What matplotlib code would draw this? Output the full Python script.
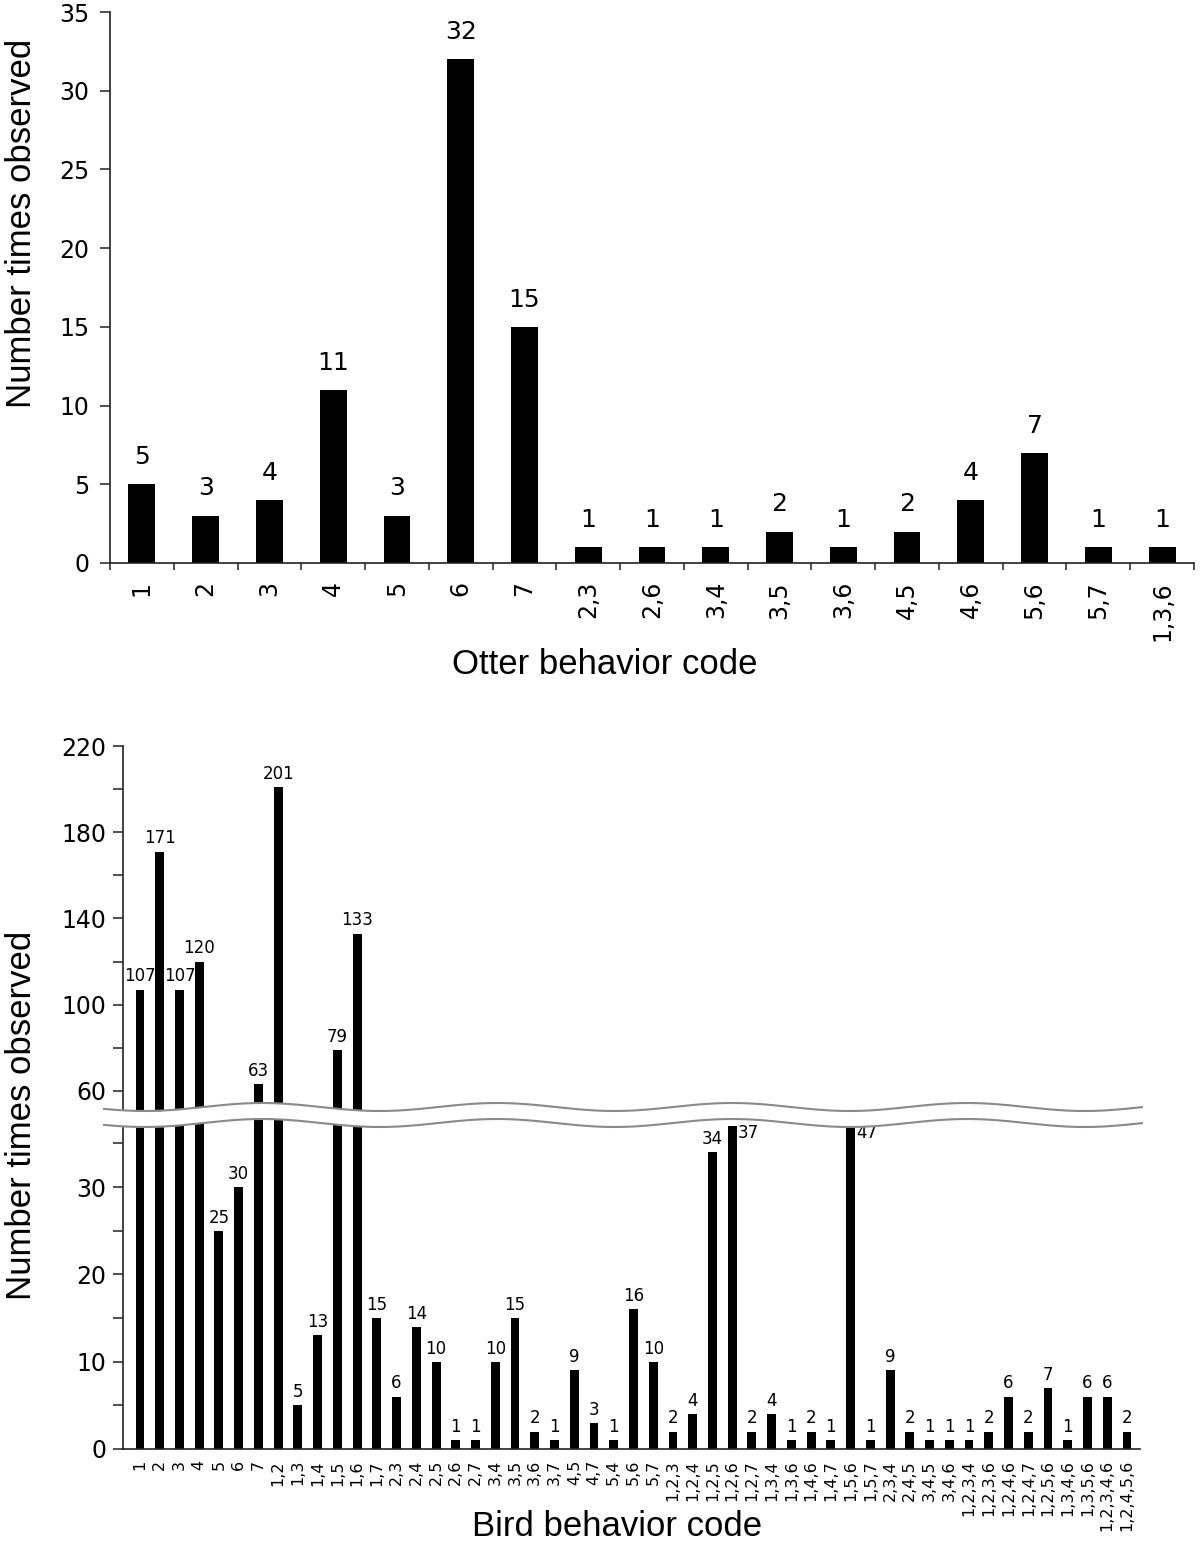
import numpy as np
import matplotlib
matplotlib.use("Agg")
import matplotlib.pyplot as plt

# Datos: nutria (panel superior)
otter_codes = ['1', '2', '3', '4', '5', '6', '7', '2,3', '2,6', '3,4', '3,5',
               '3,6', '4,5', '4,6', '5,6', '5,7', '1,3,6']
otter_counts = [5, 3, 4, 11, 3, 32, 15, 1, 1, 1, 2, 1, 2, 4, 7, 1, 1]

# Datos: aves (panel inferior)
bird_codes = ['1', '2', '3', '4', '5', '6', '7',
              '1,2', '1,3', '1,4', '1,5', '1,6', '1,7',
              '2,3', '2,4', '2,5', '2,6', '2,7',
              '3,4', '3,5', '3,6', '3,7',
              '4,5', '4,7',
              '5,4', '5,6', '5,7',
              '1,2,3', '1,2,4', '1,2,5', '1,2,6', '1,2,7',
              '1,3,4', '1,3,6', '1,4,6', '1,4,7', '1,5,6', '1,5,7',
              '2,3,4', '2,4,5', '3,4,5', '3,4,6',
              '1,2,3,4', '1,2,3,6', '1,2,4,6', '1,2,4,7', '1,2,5,6',
              '1,3,4,6', '1,3,5,6', '1,2,3,4,6', '1,2,4,5,6']
bird_counts = [107, 171, 107, 120, 25, 30, 63,
               201, 5, 13, 79, 133, 15,
               6, 14, 10, 1, 1,
               10, 15, 2, 1,
               9, 3,
               1, 16, 10,
               2, 4, 34, 37, 2,
               4, 1, 2, 1, 47, 1,
               9, 2, 1, 1,
               1, 2, 6, 2, 7,
               1, 6, 6, 2]

W, H = 1200, 1546
fig = plt.figure(figsize=(W / 100, H / 100), dpi=100)

def rect(x0, x1, y_top, y_bot):
    # rectangulo en pixeles -> fraccion de figura
    return [x0 / W, 1 - y_bot / H, (x1 - x0) / W, (y_bot - y_top) / H]

tick_font = 'DejaVu Sans'
label_font = 'Liberation Sans'
spine_c = '#222222'

# ---------------- Panel superior ----------------
ax1 = fig.add_axes(rect(110, 1194, 12, 563))
x1 = np.arange(len(otter_codes))
ax1.bar(x1, otter_counts, width=0.42, color='black')
for xi, v in zip(x1, otter_counts):
    ax1.annotate(str(v), (xi, v), xytext=(0, 11), textcoords='offset points',
                 ha='center', va='bottom', fontsize=18, family=tick_font)
ax1.set_xlim(-0.5, len(otter_codes) - 0.5)
ax1.set_ylim(0, 35)
ax1.set_yticks(np.arange(0, 36, 5))
ax1.set_xticks(x1)
ax1.set_xticklabels(otter_codes, rotation=90, fontsize=17, family=tick_font)
ax1.set_xticks(np.arange(-0.5, len(otter_codes)), minor=True)
ax1.tick_params(axis='x', which='major', length=0, pad=13)
ax1.tick_params(axis='x', which='minor', length=5, width=1.1, color=spine_c)
ax1.tick_params(axis='y', length=7, width=1.1, color=spine_c, labelsize=17, pad=8)
for lab in ax1.get_yticklabels():
    lab.set_family(tick_font)
for s in ['top', 'right']:
    ax1.spines[s].set_visible(False)
for s in ['left', 'bottom']:
    ax1.spines[s].set_linewidth(1.2)
    ax1.spines[s].set_color(spine_c)
ax1.set_xlabel('Otter behavior code', fontsize=25, family=label_font)
ax1.xaxis.set_label_coords(0.456, -0.154)

# ---------------- Panel inferior (eje cortado) ----------------
ax_hi = fig.add_axes(rect(123, 1140, 746, 1115))
ax_lo = fig.add_axes(rect(123, 1140, 1116, 1449))
x2 = np.arange(len(bird_codes))
lo_top = 38.13
hi_bot = 48.8
for ax in (ax_hi, ax_lo):
    ax.bar(x2, bird_counts, width=0.45, color='black')
    ax.set_xlim(-0.86, 50.66)
    ax.spines['top'].set_visible(False)
    ax.spines['right'].set_visible(False)
    ax.spines['left'].set_linewidth(1.2)
    ax.spines['left'].set_color(spine_c)
    ax.tick_params(axis='y', which='both', length=7, width=1.1,
                   color=spine_c, labelsize=17, pad=5)

ax_hi.set_ylim(hi_bot, 220)
ax_hi.set_yticks([60, 100, 140, 180, 220])
ax_hi.set_yticks([80, 120, 160, 200], minor=True)
ax_hi.spines['bottom'].set_visible(False)
ax_hi.set_xticks([])

ax_lo.set_ylim(0, lo_top)
ax_lo.set_yticks([0, 10, 20, 30])
ax_lo.set_yticks([5, 15, 25, 35], minor=True)
ax_lo.spines['bottom'].set_linewidth(1.2)
ax_lo.spines['bottom'].set_color(spine_c)
ax_lo.set_xticks(x2)
ax_lo.set_xticklabels(bird_codes, rotation=90, fontsize=11.5, family=tick_font)
ax_lo.tick_params(axis='x', length=0, pad=8)
for ax in (ax_hi, ax_lo):
    for lab in ax.get_yticklabels():
        lab.set_family(tick_font)

# etiquetas de valores
for xi, v in zip(x2, bird_counts):
    if v > hi_bot:
        ax_hi.annotate(str(v), (xi, v), xytext=(0, 3), textcoords='offset points',
                       ha='center', va='bottom', fontsize=12, family=tick_font)
    elif v > 36:
        # barras que llegan al corte: etiqueta a la derecha
        ax_lo.annotate(str(v), (xi, lo_top), xytext=(4, -12), textcoords='offset points',
                       ha='left', va='center', fontsize=12, family=tick_font)
    else:
        ax_lo.annotate(str(v), (xi, v), xytext=(0, 3), textcoords='offset points',
                       ha='center', va='bottom', fontsize=12, family=tick_font)

ax_lo.set_xlabel('Bird behavior code', fontsize=25, family=label_font)
ax_lo.xaxis.set_label_coords(0.486, -0.183)

# lineas onduladas del corte
ov = fig.add_axes([0, 0, 1, 1])
ov.set_xlim(0, W)
ov.set_ylim(H, 0)
ov.axis('off')
xw = np.linspace(104, 1142, 800)
wave = -4 * np.cos(2 * np.pi * (xw - 262) / 235)
ov.fill_between(xw, 1107 + wave, 1123 + wave, color='white', lw=0)
ov.plot(xw, 1107 + wave, color='#8a8a8a', lw=1.5)
ov.plot(xw, 1123 + wave, color='#8a8a8a', lw=1.5)

# etiquetas del eje y
fig.text(22 / W, 1 - 223 / H, 'Number times observed', rotation=90,
         ha='center', va='center', fontsize=25, family=label_font)
fig.text(22 / W, 1 - 1115 / H, 'Number times observed', rotation=90,
         ha='center', va='center', fontsize=25, family=label_font)

plt.savefig('out.png', dpi=100)
